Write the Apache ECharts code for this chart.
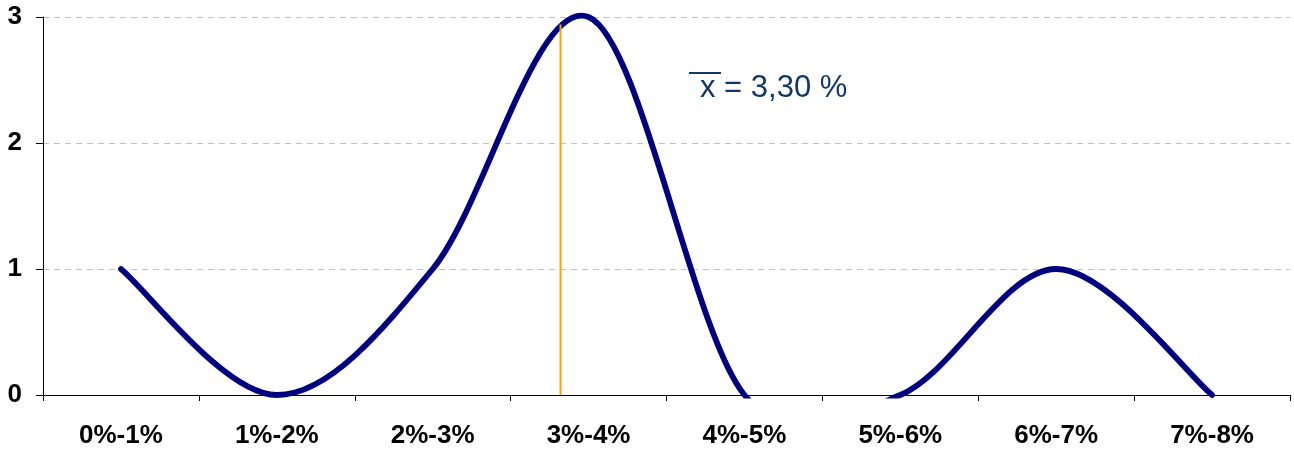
<!DOCTYPE html>
<html>
<head>
<meta charset="utf-8">
<script src="https://cdn.jsdelivr.net/npm/echarts@6/dist/echarts.min.js"></script>
<style>
html,body{margin:0;padding:0;background:#fff;}
#chart{width:1294px;height:452px;}
</style>
</head>
<body>
<div id="chart"></div>
<script>
// Data
const categories = ['0%-1%', '1%-2%', '2%-3%', '3%-4%', '4%-5%', '5%-6%', '6%-7%', '7%-8%'];
const counts = [1, 0, 1, 3, 0, 0, 1, 0];
const yTicks = [0, 1, 2, 3];
const meanLabel = '= 3,30 %';
const meanLinePos = 3.32;      // position of the orange line on a 0..8 scale
const meanLineTop = 2.94;      // where the orange line meets the curve

const chart = echarts.init(document.getElementById('chart'), null, {renderer: 'canvas'});
const labelFont = {fontFamily: 'Liberation Sans, Arial, sans-serif', fontWeight: 'bold', fontSize: 26, color: '#000'};

// Excel-style smoothed curve (Catmull-Rom Bezier) built from points mapped by the axes
function renderCurve(params, api) {
  if (params.dataIndex !== 0) return null;
  const pts = counts.map((v, i) => api.coord([i, v]));
  const t = 1 / 6;
  let d = 'M' + pts[0][0] + ' ' + pts[0][1];
  for (let i = 0; i < pts.length - 1; i++) {
    const p0 = pts[Math.max(i - 1, 0)], p1 = pts[i], p2 = pts[i + 1], p3 = pts[Math.min(i + 2, pts.length - 1)];
    const c1x = p1[0] + (p2[0] - p0[0]) * t, c1y = p1[1] + (p2[1] - p0[1]) * t;
    const c2x = p2[0] - (p3[0] - p1[0]) * t, c2y = p2[1] - (p3[1] - p1[1]) * t;
    d += ' C' + c1x + ' ' + c1y + ' ' + c2x + ' ' + c2y + ' ' + p2[0] + ' ' + p2[1];
  }
  const cs = params.coordSys;
  return {
    type: 'group',
    clipPath: {type: 'rect', shape: {x: cs.x - 10, y: cs.y - 20, width: cs.width + 20, height: cs.height + 23.5}},
    children: [{
      type: 'path',
      shape: {pathData: d},
      style: {fill: null, stroke: '#000080', lineWidth: 5.8, lineCap: 'round', lineJoin: 'round'}
    }]
  };
}

chart.setOption({
  animation: false,
  backgroundColor: '#fff',
  grid: {left: 43, right: 4, top: 17, bottom: 57, containLabel: false},
  xAxis: [{
    type: 'category',
    data: categories,
    boundaryGap: true,
    axisLine: {show: true, lineStyle: {color: '#000', width: 1}},
    axisTick: {show: true, length: 6, lineStyle: {color: '#000'}},
    axisLabel: Object.assign({margin: 28}, labelFont),
    splitLine: {show: false}
  }, {
    type: 'value', min: 0, max: 8, show: false
  }],
  yAxis: {
    type: 'value',
    min: yTicks[0], max: yTicks[yTicks.length - 1], interval: 1,
    axisLine: {show: true, lineStyle: {color: '#000', width: 1}},
    axisTick: {show: true, length: 7, lineStyle: {color: '#000'}},
    axisLabel: Object.assign({margin: 21}, labelFont),
    splitLine: {show: true, lineStyle: {color: '#c0c0c0', type: [6, 5], width: 1}}
  },
  series: [{
    type: 'custom',
    renderItem: renderCurve,
    data: counts.map((v, i) => [i, v]),
    encode: {x: 0, y: 1},
    z: 2
  }, {
    type: 'line',
    xAxisIndex: 1,
    data: [[meanLinePos, 0], [meanLinePos, meanLineTop]],
    symbol: 'none',
    lineStyle: {color: '#FFA500', width: 2},
    z: 3
  }],
  graphic: [{
    type: 'group',
    left: 689, top: 72,
    children: [{
      type: 'rect',
      shape: {x: 0, y: 0, width: 32, height: 2},
      style: {fill: '#12386B'}
    }, {
      type: 'text',
      style: {
        text: 'x ' + meanLabel,
        x: 11, y: 1,
        font: '31px "Liberation Sans", Arial, sans-serif',
        fill: '#12386B',
        verticalAlign: 'top'
      }
    }]
  }]
});
</script>
</body>
</html>
